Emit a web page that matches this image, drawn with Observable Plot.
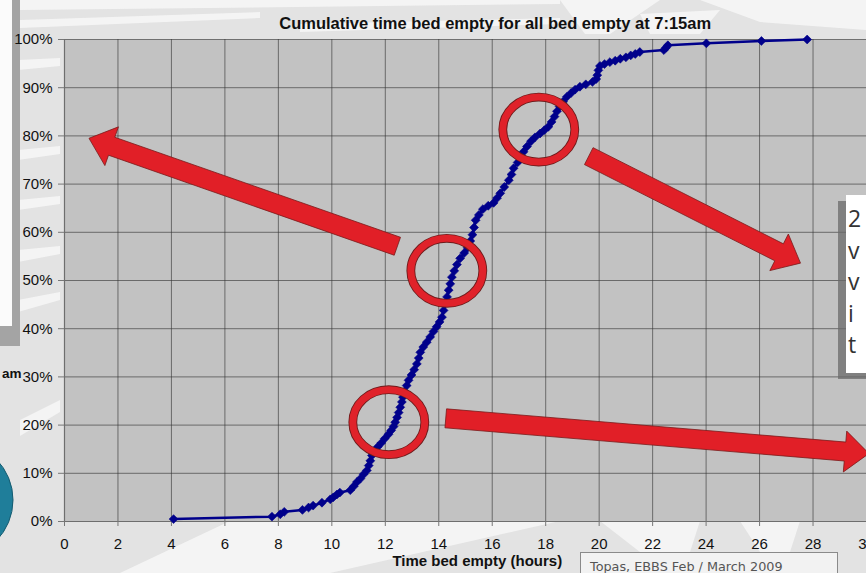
<!DOCTYPE html>
<html>
<head>
<meta charset="utf-8">
<script src="https://cdn.jsdelivr.net/npm/d3@7"></script>
<script src="https://cdn.jsdelivr.net/npm/@observablehq/plot@0.6"></script>
<style>
  html, body { margin: 0; padding: 0; background: #e4e4e4; }
  #chart { width: 866px; height: 573px; overflow: hidden; position: relative; }
  #chart svg { display: block; }
</style>
</head>
<body>
<div id="chart"></div>
<script>
// ---------- text ----------
const title = "Cumulative time bed empty for all bed empty at 7:15am";
const xLabel = "Time bed empty (hours)";
const sourceNote = "Topas, EBBS Feb / March 2009";
const sideBoxLines = ["2", "v", "v", "i", "t"];
const leftFragment = "am";

// ---------- axes ----------
const xTicks = [0, 2, 4, 6, 8, 10, 12, 14, 16, 18, 20, 22, 24, 26, 28, 30];
const yTicks = [0, 0.1, 0.2, 0.3, 0.4, 0.5, 0.6, 0.7, 0.8, 0.9, 1.0];

// ---------- data: time bed empty (hours) vs cumulative share (%) ----------
const hours = [
  4.08, 7.76, 8.07, 8.22, 8.90, 9.13, 9.30, 9.63, 9.94, 10.05,
  10.19, 10.30, 10.69, 10.82, 10.94, 11.07, 11.19, 11.31, 11.38, 11.44,
  11.50, 11.62, 11.72, 11.85, 11.98, 12.12, 12.22, 12.31, 12.37, 12.44,
  12.50, 12.56, 12.62, 12.66, 12.72, 12.80, 12.87, 12.98, 13.08, 13.18,
  13.25, 13.31, 13.42, 13.55, 13.68, 13.80, 13.92, 14.03, 14.12, 14.18,
  14.24, 14.31, 14.37, 14.43, 14.49, 14.58, 14.68, 14.80, 14.95, 15.08,
  15.18, 15.26, 15.32, 15.38, 15.50, 15.65, 15.85, 16.05, 16.18, 16.30,
  16.45, 16.62, 16.72, 16.80, 16.95, 17.08, 17.17, 17.30, 17.45, 17.60,
  17.79, 17.95, 18.10, 18.22, 18.33, 18.42, 18.52, 18.65, 18.79, 18.95,
  19.10, 19.28, 19.50, 19.75, 19.89, 19.93, 19.97, 20.03, 20.20, 20.40,
  20.60, 20.79, 21.00, 21.18, 21.35, 21.52, 22.42, 22.50, 22.57, 24.01,
  26.07, 27.78
];
const cumulativePct = [
  0.5, 1.0, 1.5, 2.0, 2.4, 2.9, 3.3, 3.9, 4.6, 5.0,
  5.6, 6.0, 6.5, 7.3, 8.2, 8.9, 9.8, 10.6, 11.6, 12.6,
  13.7, 14.6, 15.5, 16.3, 17.2, 18.1, 18.9, 19.7, 20.6, 21.6,
  22.6, 23.7, 24.8, 25.8, 27.0, 28.2, 29.3, 30.4, 31.5, 32.7,
  33.9, 35.1, 36.2, 37.2, 38.3, 39.4, 40.4, 41.4, 42.4, 43.8,
  45.2, 46.6, 48.0, 49.3, 50.7, 52.0, 53.3, 54.6, 55.7, 56.8,
  58.2, 59.5, 61.0, 62.5, 63.6, 64.8, 65.5, 66.1, 67.1, 68.1,
  69.4, 70.8, 72.0, 73.3, 74.5, 75.6, 76.7, 77.8, 78.9, 79.7,
  80.5, 81.2, 81.9, 82.9, 84.0, 85.1, 86.1, 87.1, 88.1, 88.9,
  89.6, 90.2, 90.7, 91.2, 91.8, 92.6, 93.6, 94.5, 94.9, 95.3,
  95.6, 96.0, 96.3, 96.7, 97.0, 97.4, 97.8, 98.3, 98.8, 99.2,
  99.7, 100
];

// ---------- annotations (in data coordinates) ----------
const ringCenters = [
  {x: 17.76, y: 0.812},
  {x: 14.32, y: 0.519},
  {x: 12.15, y: 0.205}
];
const arrowTails = [
  {x: 12.47, y: 0.570},
  {x: 19.63, y: 0.757},
  {x: 14.28, y: 0.213}
];
const arrowTips = [
  {x: 0.935, y: 0.794},
  {x: 27.55, y: 0.535},
  {x: 30.11, y: 0.140}
];

const data = hours.map((h, i) => ({hours: h, share: cumulativePct[i] / 100}));

const navy = "#00008b";
const chart = Plot.plot({
  width: 866,
  height: 573,
  marginLeft: 64,
  marginRight: 0,
  marginTop: 39,
  marginBottom: 52,
  style: {background: "transparent", fontFamily: "'Liberation Sans', Arial, sans-serif", fontSize: "15px", color: "#111", overflow: "visible"},
  x: {domain: [0, 30], label: null},
  y: {domain: [0, 1], label: null},
  marks: [
    Plot.frame({fill: "#c2c2c2", stroke: null}),
    Plot.gridX(xTicks, {stroke: "#333", strokeOpacity: 0.62, strokeWidth: 1}),
    Plot.gridY(yTicks, {stroke: "#333", strokeOpacity: 0.62, strokeWidth: 1}),
    Plot.ruleY([0], {stroke: "#6e6e6e", strokeWidth: 1.2}),
    Plot.ruleX([0], {stroke: "#6e6e6e", strokeWidth: 1.2}),
    Plot.axisX(xTicks, {tickSize: 5, tickPadding: 12, stroke: "#777", fill: "#111", fontSize: 15, label: null, tickFormat: d => String(d)}),
    Plot.axisY(yTicks, {tickSize: 6, tickPadding: 6, stroke: "#777", fill: "#111", fontSize: 15, label: null, tickFormat: d => Math.round(d * 100) + "%"}),
    Plot.line(data, {x: "hours", y: "share", stroke: navy, strokeWidth: 2.5}),
    Plot.dot(data, {x: "hours", y: "share", symbol: "diamond2", r: 4, fill: navy, stroke: navy, strokeWidth: 0.6}),
    Plot.text([{x: 16.11, t: title}], {x: "x", text: "t", frameAnchor: "top", dy: -22, fontWeight: "bold", fontSize: 16.5, fill: "#111"}),
    Plot.text([{x: 15.44, t: xLabel}], {x: "x", text: "t", frameAnchor: "bottom", dy: 44, fontWeight: "bold", fontSize: 15, fill: "#111"})
  ]
});

document.getElementById("chart").appendChild(chart);

const xs = chart.scale("x");
const ys = chart.scale("y");
const px = d => [xs.apply(d.x), ys.apply(d.y)];
const svg = d3.select(chart);

// ---------- slide background (behind chart) ----------
const bg = svg.insert("g", ":first-child");
bg.append("rect").attr("x", 0).attr("y", 0).attr("width", 866).attr("height", 573).attr("fill", "#e3e3e3");
const stripes = [
  "M20,0 L560,0 L560,4 L20,10 Z",
  "M20,20 L260,12 L260,18 L20,28 Z",
  "M300,24 L560,18 L560,24 L300,32 Z",
  "M560,0 L660,0 L610,34 L585,34 Z",
  "M700,0 L866,0 L866,30 L760,22 Z",
  "M640,14 L720,10 L700,34 L650,34 Z",
  "M18,60 L60,58 L60,66 L18,70 Z",
  "M18,150 L60,146 L60,154 L18,160 Z",
  "M18,200 L60,196 L60,204 L18,210 Z",
  "M18,250 L60,246 L60,254 L18,262 Z",
  "M18,300 L60,292 L60,300 L18,312 Z",
  "M20,420 L60,400 L60,412 L20,436 Z",
  "M230,521 L560,521 L330,573 L120,573 Z",
  "M600,521 L700,521 L690,552 L640,552 Z",
  "M740,521 L800,521 L790,552 L760,552 Z"
];
bg.selectAll("path.s").data(stripes).join("path").attr("d", d => d).attr("fill", "#f7f7f7").attr("opacity", 0.85);

// left white box with shadow
bg.append("rect").attr("x", 0).attr("y", 0).attr("width", 20).attr("height", 346).attr("fill", "#a4a4a4");
bg.append("rect").attr("x", 0).attr("y", 0).attr("width", 12).attr("height", 326).attr("fill", "#fbfbfb");
// teal circle
bg.append("circle").attr("cx", -45).attr("cy", 500).attr("r", 58).attr("fill", "#1f7e9a").attr("stroke", "#145b70").attr("stroke-width", 1);

// ---------- overlays ----------
const fg = svg.append("g").attr("text-anchor", "start");

// "am" fragment
fg.append("text").attr("x", 21.5).attr("y", 378).attr("text-anchor", "end")
  .attr("font-family", "'Liberation Sans', Arial, sans-serif").attr("font-weight", "bold").attr("font-size", 13.5).attr("fill", "#111").text(leftFragment);

// right side text box
const sb = fg.append("g");
sb.append("rect").attr("x", 838).attr("y", 201).attr("width", 40).attr("height", 178).attr("fill", "#6a6a6a").attr("opacity", 0.75);
sb.append("rect").attr("x", 846).attr("y", 195).attr("width", 30).attr("height", 178).attr("fill", "#ffffff");
sb.selectAll("text").data(sideBoxLines).join("text")
  .attr("x", 848).attr("y", (d, i) => 227 + i * 31.5).attr("text-anchor", "start")
  .attr("font-family", "'Open Sans', sans-serif").attr("font-size", 23).attr("fill", "#333").text(d => d);

// source note box
const nb = fg.append("g");
nb.append("rect").attr("x", 580.5).attr("y", 552.5).attr("width", 257).attr("height", 30).attr("fill", "#f2f2f2").attr("stroke", "#8a8a8a");
nb.append("text").attr("x", 590).attr("y", 571).attr("text-anchor", "start").attr("font-family", "'DejaVu Sans', Verdana, sans-serif").attr("font-size", 12.8).attr("fill", "#555").text(sourceNote);

// red rings
const rings = fg.append("g");
ringCenters.forEach(c => {
  const [cx, cy] = px(c);
  rings.append("ellipse").attr("cx", cx).attr("cy", cy).attr("rx", 36).attr("ry", 32.5)
    .attr("fill", "none").attr("stroke", "#6e1c1c").attr("stroke-width", 8.8);
  rings.append("ellipse").attr("cx", cx).attr("cy", cy).attr("rx", 36).attr("ry", 32.5)
    .attr("fill", "none").attr("stroke", "#e0222a").attr("stroke-width", 7);
});

// red arrows
function arrowPath(tail, tip, shaftHalf, headHalf, headLen) {
  const [tx, ty] = px(tail), [hx, hy] = px(tip);
  const dx = hx - tx, dy = hy - ty, len = Math.hypot(dx, dy);
  const ux = dx / len, uy = dy / len, nx = -uy, ny = ux;
  const bx = hx - ux * headLen, by = hy - uy * headLen;
  const pts = [
    [tx + nx * shaftHalf, ty + ny * shaftHalf],
    [bx + nx * shaftHalf, by + ny * shaftHalf],
    [bx + nx * headHalf, by + ny * headHalf],
    [hx, hy],
    [bx - nx * headHalf, by - ny * headHalf],
    [bx - nx * shaftHalf, by - ny * shaftHalf],
    [tx - nx * shaftHalf, ty - ny * shaftHalf]
  ];
  return "M" + pts.map(p => p.join(",")).join("L") + "Z";
}
arrowTails.forEach((t, i) => {
  fg.append("path").attr("d", arrowPath(t, arrowTips[i], 9.5, 20.5, 24))
    .attr("fill", "#e11f27").attr("stroke", "#7a1a1a").attr("stroke-width", 0.8).attr("stroke-linejoin", "miter");
});
</script>
</body>
</html>
